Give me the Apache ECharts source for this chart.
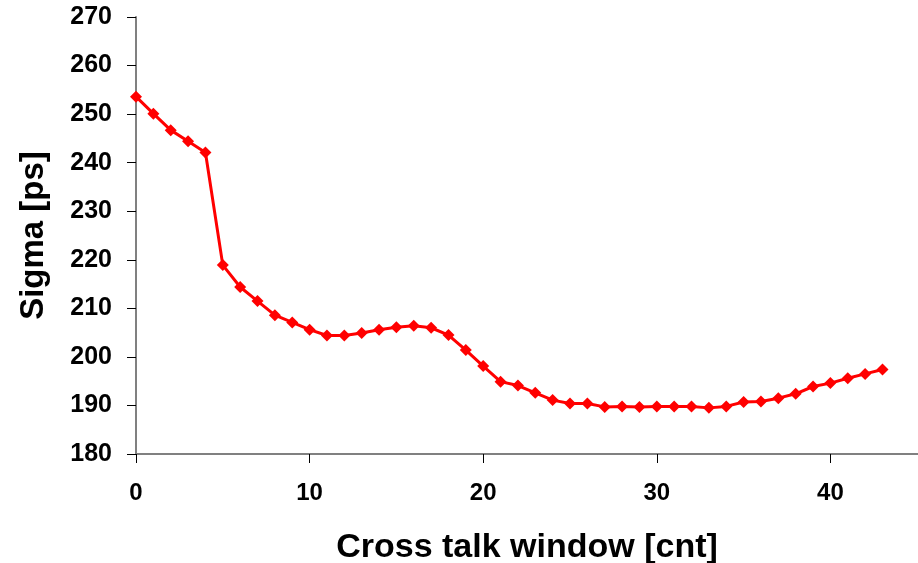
<!DOCTYPE html>
<html>
<head>
<meta charset="utf-8">
<script src="https://cdn.jsdelivr.net/npm/echarts@6/dist/echarts.min.js"></script>
<style>html,body{margin:0;padding:0;background:#fff;}#c{width:918px;height:563px;}</style>
</head>
<body>
<div id="c"></div>
<script>
const xValues = [0,1,2,3,4,5,6,7,8,9,10,11,12,13,14,15,16,17,18,19,20,21,22,23,24,25,26,27,28,29,30,31,32,33,34,35,36,37,38,39,40,41,42,43];
const sigmaValues = [253.6,250.1,246.7,244.4,242.1,218.9,214.4,211.5,208.6,207.1,205.6,204.4,204.4,204.9,205.6,206.1,206.4,206.0,204.5,201.4,198.1,194.9,194.1,192.6,191.1,190.4,190.4,189.7,189.8,189.7,189.8,189.8,189.8,189.5,189.8,190.7,190.8,191.5,192.4,193.9,194.6,195.6,196.5,197.4];
const xTitle = 'Cross talk window [cnt]';
const yTitle = 'Sigma [ps]';

const font = 'Liberation Sans, Arial, sans-serif';
const chart = echarts.init(document.getElementById('c'));
chart.setOption({
  animation: false,
  backgroundColor: '#fff',
  grid: { left: 136, top: 17, bottom: 109, right: -86, outerBoundsMode: 'none', containLabel: false },
  xAxis: {
    type: 'value', min: 0, max: 50, interval: 10,
    name: xTitle, nameLocation: 'middle', nameGap: 77,
    nameTextStyle: { fontFamily: font, fontWeight: 'bold', fontSize: 34, color: '#000', padding: [0, 86, 0, 0] },
    axisLine: { onZero: false, lineStyle: { color: '#808080', width: 2 } },
    axisTick: { inside: false, length: 9, lineStyle: { color: '#000', width: 1 } },
    axisLabel: { margin: 27, fontFamily: font, fontWeight: 'bold', fontSize: 24, color: '#000' },
    splitLine: { show: false }
  },
  yAxis: {
    type: 'value', min: 180, max: 270, interval: 10,
    name: yTitle, nameLocation: 'middle', nameGap: 86,
    nameTextStyle: { fontFamily: font, fontWeight: 'bold', fontSize: 33, color: '#000' },
    axisLine: { show: true, lineStyle: { color: '#808080', width: 2 } },
    axisTick: { show: true, inside: false, length: 9, lineStyle: { color: '#000', width: 1 } },
    axisLabel: { margin: 24, fontFamily: font, fontWeight: 'bold', fontSize: 25, color: '#000' },
    splitLine: { show: false }
  },
  series: [{
    type: 'line',
    data: xValues.map((x, i) => [x, sigmaValues[i]]),
    symbol: 'diamond', symbolSize: 12, showSymbol: true,
    itemStyle: { color: '#FF0000' },
    lineStyle: { color: '#FF0000', width: 3 },
    clip: false
  }]
});
</script>
</body>
</html>
